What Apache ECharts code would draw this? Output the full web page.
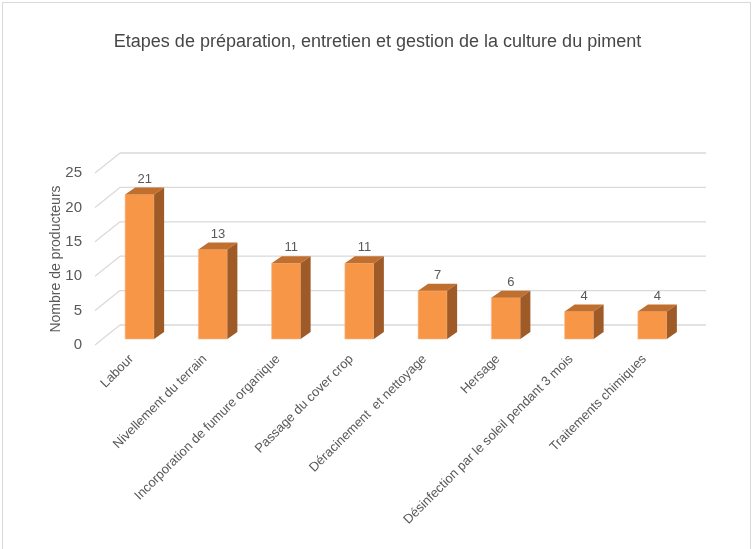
<!DOCTYPE html>
<html><head><meta charset="utf-8">
<script src="https://cdn.jsdelivr.net/npm/echarts@6/dist/echarts.min.js"></script>
<style>
html,body{margin:0;padding:0;background:#fff;}
#c{position:absolute;left:0;top:0;width:755px;height:549px;}
#frame{position:absolute;left:2px;top:2px;width:749px;height:560px;border:1px solid #d9d9d9;box-sizing:border-box;pointer-events:none;}
</style></head>
<body>
<div id="c"></div><div id="frame"></div>
<script>
const categories = ["Labour","Nivellement du terrain","Incorporation de fumure organique","Passage du cover crop","Déracinement  et nettoyage","Hersage","Désinfection par le soleil pendant 3 mois","Traitements chimiques"];
const values = [21, 13, 11, 11, 7, 6, 4, 4];
const yTicks = [0, 5, 10, 15, 20, 25];

const FONT = "'Liberation Sans Narrow','Arial Narrow','Liberation Sans',sans-serif";
const TXT = '#595959';
const BACK = [25, -20];   // depth of back wall (px)
const BAR_OFF = [8, -6];  // bar front plane offset
const BAR_D = [10, -7];   // bar depth
const BAR_W = 29;

const chart = echarts.init(document.getElementById('c'), null, {renderer:'canvas'});
chart.setOption({
  backgroundColor:'#fff',
  animation:false,
  title:{text:'Etapes de préparation, entretien et gestion de la culture du piment',
    left:'center', top:28,
    textStyle:{fontFamily:FONT, fontSize:18, fontWeight:'normal', color:'#474747'}},
  grid:{left:95, top:173, width:586, height:172, containLabel:false},
  xAxis:{type:'category', data:categories,
    axisLine:{show:false}, axisTick:{show:false}, splitLine:{show:false},
    axisLabel:{interval:0, rotate:45, margin:12, fontFamily:FONT, fontSize:13, color:TXT}},
  yAxis:{type:'value', min:0, max:25, interval:5,
    name:'Nombre de producteurs', nameLocation:'middle', nameGap:32, nameRotate:90, nameMoveOverlap:false,
    nameTextStyle:{fontFamily:FONT, fontSize:14, color:TXT},
    axisLine:{show:false}, axisTick:{show:false}, splitLine:{show:false},
    axisLabel:{margin:13, fontFamily:FONT, fontSize:15, color:TXT}},
  series:[
    {type:'custom', z:1, silent:true,
     data: yTicks.map(v=>[0, v]),
     renderItem:function(params, api){
       const cs = params.coordSys;
       const y = api.coord([0, api.value(1)])[1];
       const x0 = cs.x, x1 = cs.x + cs.width;
       return {type:'group', children:[
         {type:'line', shape:{x1:x0, y1:y, x2:x0+BACK[0], y2:y+BACK[1]}, style:{stroke:'#d9d9d9', lineWidth:1.3}},
         {type:'line', shape:{x1:x0+BACK[0], y1:y+BACK[1], x2:x1+BACK[0], y2:y+BACK[1]}, style:{stroke:'#d9d9d9', lineWidth:1.3}}
       ]};
     }},
    {type:'custom', z:2, silent:true,
     data: values.map((v,i)=>[i, v]),
     renderItem:function(params, api){
       const base = api.coord([api.value(0), 0]);
       const top = api.coord([api.value(0), api.value(1)]);
       const x = base[0] - BAR_W/2 + BAR_OFF[0];
       const yb = base[1] + BAR_OFF[1];
       const yt = top[1] + BAR_OFF[1];
       const dx = BAR_D[0], dy = BAR_D[1];
       return {type:'group', children:[
         {type:'rect', shape:{x:x, y:yt, width:BAR_W, height:yb-yt}, style:{fill:'#F79646', stroke:'#FAB888', lineWidth:0.6}},
         {type:'polygon', shape:{points:[[x,yt],[x+dx,yt+dy],[x+BAR_W+dx,yt+dy],[x+BAR_W,yt]]}, style:{fill:'#C06F2F'}},
         {type:'polygon', shape:{points:[[x+BAR_W,yt],[x+BAR_W+dx,yt+dy],[x+BAR_W+dx,yb+dy],[x+BAR_W,yb]]}, style:{fill:'#9E5B27'}},
         {type:'text', style:{text:String(api.value(1)), x:x+BAR_W/2+dx/2, y:yt+dy-2, align:'center', verticalAlign:'bottom',
           fontFamily:FONT, fontSize:13, fill:TXT}}
       ]};
     }}
  ]
});
</script>
</body></html>
